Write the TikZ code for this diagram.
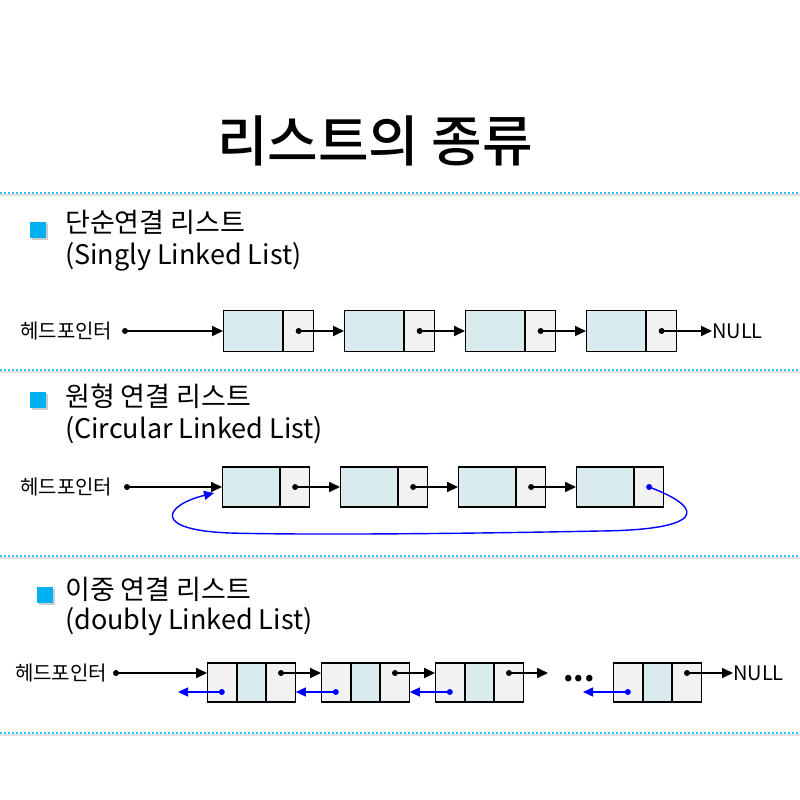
\documentclass[tikz,border=0pt]{standalone}
\usepackage{fontspec}
\setmainfont{Noto Sans CJK KR}
\newfontfamily\titlefont{Noto Sans CJK KR Medium}
\usetikzlibrary{arrows.meta}
\definecolor{cellblue}{RGB}{218,235,238}
\definecolor{cellgray}{RGB}{242,242,242}
\definecolor{bulletcyan}{RGB}{0,176,240}
\definecolor{linkblue}{RGB}{0,0,255}
\begin{document}
\begin{tikzpicture}[x=1pt,y=-1pt,>={Triangle[length=11pt,width=10pt]}]
                \tikzstyle{datacell}=[rectangle,draw=black,fill=cellblue,line width=1.1pt,minimum height=41pt,inner sep=0pt,anchor=west]
                \tikzstyle{ptrcell}=[datacell,fill=cellgray]
                \tikzstyle{link}=[->,line width=1.8pt]
                \tikzstyle{backlink}=[->,>={Triangle[length=10pt,width=9pt]},draw=linkblue,line width=1.4pt]
                \tikzstyle{headtext}=[font=\fontsize{20}{22}\selectfont,anchor=west,inner sep=0pt]
                \tikzstyle{sectext}=[font=\fontsize{27}{30}\selectfont,anchor=west,inner sep=0pt]
                \useasboundingbox (0,0) rectangle (800,800);

                % title
                \node[font=\fontsize{55}{60}\selectfont\titlefont] (title) at (375,141) {리스트의 종류};

                % dotted separators
                \foreach \y in {193, 370, 556, 733} {
                        \draw[gray!25,line width=1.5pt] (0,\y+2) -- (800,\y+2);
                        \draw[bulletcyan!80,line width=2pt,dash pattern=on 2pt off 2pt] (0,\y) -- (800,\y);
                }

                % section headings
                \foreach \num/\x/\y in {1/30/230, 2/30/400, 3/37/595} {
                        \fill[gray!40] (\x+2,\y-6) rectangle (\x+18,\y+10);
                        \fill[bulletcyan] (\x,\y-8) rectangle (\x+16,\y+8);
                }
                \node[sectext] (sec-1) at (65,222) {단순연결 리스트};
                \node[sectext] (sub-1) at (65,257) {(Singly Linked List)};
                \node[sectext] (sec-2) at (65,396) {원형 연결 리스트};
                \node[sectext] (sub-2) at (65,430) {(Circular Linked List)};
                \node[sectext] (sec-3) at (65,589) {이중 연결 리스트};
                \node[sectext] (sub-3) at (65,622) {(doubly Linked List)};

                % singly linked list
                \node[headtext] (head-1) at (20,331) {헤드포인터};
                \coordinate (h-1) at (125,331);
                \foreach \num/\x in {1/223, 2/344, 3/465, 4/586} {
                        \node[datacell,minimum width=59pt] (S-\num) at (\x,331) {};
                        \node[ptrcell,minimum width=30pt] (SP-\num) at (S-\num.east) {};
                        \fill (SP-\num.center) circle (3);
                }
                \fill (h-1) circle (3);
                \draw[link] (h-1) -- (S-1.west);
                \foreach \from/\to in {1/2, 2/3, 3/4}
                        \draw[link] (SP-\from.center) -- (S-\to.west);
                \node[headtext] (null-1) at (712,331) {NULL};
                \draw[link] (SP-4.center) -- (null-1.west);

                % circular linked list
                \node[headtext] (head-2) at (20,487) {헤드포인터};
                \coordinate (h-2) at (127,487);
                \foreach \num/\x in {1/222, 2/340, 3/458, 4/576} {
                        \node[datacell,minimum width=57pt,minimum height=40pt] (C-\num) at (\x,487) {};
                        \node[ptrcell,minimum width=29pt,minimum height=40pt] (CP-\num) at (C-\num.east) {};
                }
                \foreach \num in {1,2,3}
                        \fill (CP-\num.center) circle (3);
                \fill (h-2) circle (3);
                \draw[link] (h-2) -- (C-1.west);
                \foreach \from/\to in {1/2, 2/3, 3/4}
                        \draw[link] (CP-\from.center) -- (C-\to.west);
                \coordinate (c-in) at (214,493);
                \fill[linkblue] (CP-4.center) circle (3);
                \draw[backlink] (CP-4.center) .. controls (710,510) and (700,530) .. (600,531)
                        .. controls (450,534) and (300,535) .. (230,533)
                        .. controls (150,530) and (165,505) .. (c-in);

                % doubly linked list
                \node[headtext] (head-3) at (15,673) {헤드포인터};
                \coordinate (h-3) at (116,673);
                \foreach \num/\x in {1/207, 2/321, 3/435, 4/613} {
                        \node[ptrcell,minimum width=28.5pt,minimum height=39pt] (DL-\num) at (\x,682.5) {};
                        \node[datacell,minimum width=28.5pt,minimum height=39pt] (D-\num) at (DL-\num.east) {};
                        \node[ptrcell,minimum width=28.5pt,minimum height=39pt] (DR-\num) at (D-\num.east) {};
                        \fill ([yshift=9.5pt]DR-\num.center) circle (3);
                        \fill[linkblue] ([yshift=-9.5pt]DL-\num.center) circle (3);
                }
                \fill (h-3) circle (3);
                \draw[link] (h-3) -- ([yshift=9.5pt]DL-1.west);
                \foreach \from/\to in {1/2, 2/3}
                        \draw[link] ([yshift=9.5pt]DR-\from.center) -- ([yshift=9.5pt]DL-\to.west);
                \coordinate (d-out) at (548,673);
                \draw[link] ([yshift=9.5pt]DR-3.center) -- (d-out);
                \node[headtext] (null-3) at (733,673) {NULL};
                \draw[link] ([yshift=9.5pt]DR-4.center) -- (null-3.west);
                \coordinate (b-1) at (178,692);
                \coordinate (b-4) at (583,692);
                \draw[backlink] ([yshift=-9.5pt]DL-1.center) -- (b-1);
                \foreach \from/\to in {2/1, 3/2}
                        \draw[backlink] ([yshift=-9.5pt]DL-\from.center) -- ([yshift=-9.5pt]DR-\to.east);
                \draw[backlink] ([yshift=-9.5pt]DL-4.center) -- (b-4);
                \node[font=\fontsize{30}{32}\selectfont\bfseries,inner sep=0pt] (dots) at (579,679) {...};
            \end{tikzpicture}
\end{document}
